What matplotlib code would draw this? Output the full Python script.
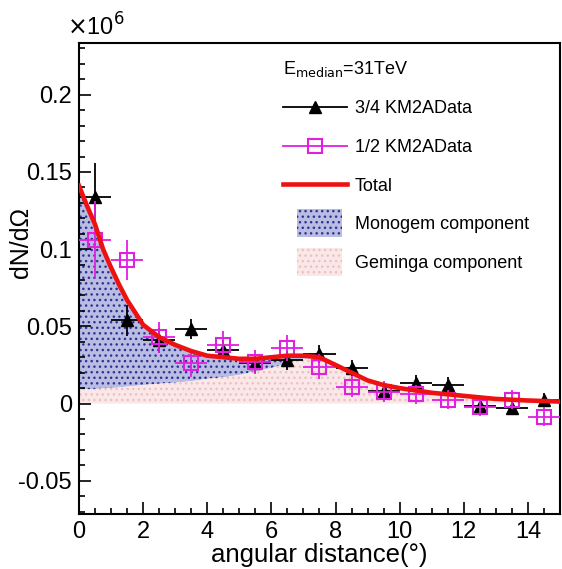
import matplotlib
matplotlib.use('Agg')
import matplotlib.pyplot as plt
from matplotlib.lines import Line2D
from matplotlib.patches import Patch, Rectangle
from matplotlib.legend_handler import HandlerPatch
from matplotlib.ticker import MultipleLocator, FuncFormatter

plt.rcParams['font.family'] = ['Liberation Sans', 'DejaVu Sans']
plt.rcParams['axes.unicode_minus'] = False
plt.rcParams['hatch.linewidth'] = 1.0

# bin centres (deg), values in units of 1e6
xbins = [0.5, 1.5, 2.5, 3.5, 4.5, 5.5, 6.5, 7.5, 8.5, 9.5, 10.5, 11.5, 12.5, 13.5, 14.5]
xhalf = [0.5] * 15

d34 = [0.134, 0.054, 0.041, 0.048, 0.035, 0.026, 0.028, 0.032, 0.023, 0.008,
       0.0135, 0.0123, -0.0013, -0.0026, 0.0026]
d34_err = [0.022, 0.010, 0.008, 0.0065, 0.006, 0.006, 0.006, 0.006, 0.005, 0.005,
           0.005, 0.005, 0.004, 0.004, 0.004]

d12 = [0.106, 0.093, 0.043, 0.0265, 0.038, 0.027, 0.036, 0.024, 0.011, 0.0078,
       0.006, 0.0026, -0.002, 0.0026, -0.0084]
d12_err = [0.025, 0.013, 0.010, 0.009, 0.009, 0.008, 0.0085, 0.008, 0.007, 0.007,
           0.006, 0.006, 0.006, 0.006, 0.006]

# model curves
xc = [0.0, 0.25, 0.5, 0.75, 1.0, 1.25, 1.5, 2.0, 2.5, 3.0, 3.5, 4.0, 4.5, 5.0, 5.5,
      6.0, 6.5, 7.0, 7.5, 8.0, 8.5, 9.0, 9.5, 10.0, 11.0, 12.0, 13.0, 14.0, 15.0]
total = [0.141, 0.128, 0.116, 0.100, 0.088, 0.077, 0.067, 0.051, 0.043, 0.038, 0.034,
         0.031, 0.030, 0.029, 0.029, 0.030, 0.031, 0.031, 0.030, 0.025, 0.020, 0.015,
         0.012, 0.010, 0.007, 0.005, 0.003, 0.002, 0.0013]
geminga = [0.009, 0.0093, 0.0095, 0.0098, 0.010, 0.0105, 0.011, 0.012, 0.0128, 0.0135,
           0.0145, 0.016, 0.017, 0.0185, 0.021, 0.023, 0.026, 0.029, 0.029, 0.024,
           0.019, 0.0145, 0.0115, 0.0095, 0.0068, 0.0048, 0.0029, 0.0019, 0.0012]

blue_face, blue_dot = '#babde3', '#2f3390'
pink_face, pink_dot = '#fae8e8', '#edc0c0'


class BoxHandler(HandlerPatch):
    def create_artists(self, legend, orig, xd, yd, w, h, fontsize, trans):
        r = Rectangle((-xd + 0.22 * w, -yd - 0.6 * h), 0.7 * w, 2.2 * h)
        self.update_prop(r, orig, legend)
        r.set_transform(trans)
        return [r]


fig = plt.figure(figsize=(5.62, 5.69), dpi=100)
ax = fig.add_axes([0.1406, 0.0967, 0.8558, 0.8277])

ax.fill_between(xc, geminga, total, facecolor=blue_face, edgecolor=blue_dot,
                hatch='...', linewidth=0, zorder=1)
ax.fill_between(xc, 0, geminga, facecolor=pink_face, edgecolor=pink_dot,
                hatch='...', linewidth=0, zorder=1)

ax.errorbar(xbins, d34, xerr=xhalf, yerr=d34_err, fmt='^', color='black',
            ms=8, elinewidth=1.3, capsize=0, zorder=3)
ax.errorbar(xbins, d12, xerr=xhalf, yerr=d12_err, fmt='s', color='#e020e0',
            mfc='none', mec='#e020e0', mew=1.5, ms=10, elinewidth=1.3, capsize=0, zorder=4)
ax.plot(xc, total, color='#ee1111', lw=3.3, zorder=5)

ax.set_xlim(0, 15)
ax.set_ylim(-0.0715, 0.2335)

ax.xaxis.set_major_locator(MultipleLocator(2))
ax.xaxis.set_minor_locator(MultipleLocator(0.5))
ax.yaxis.set_major_locator(MultipleLocator(0.05))
ax.yaxis.set_minor_locator(MultipleLocator(0.01))
ax.yaxis.set_major_formatter(FuncFormatter(lambda v, p: '%g' % round(v, 3)))
ax.tick_params(which='both', direction='in', top=False, right=False, width=1.2,
               labelsize=17)
ax.tick_params(which='major', length=8.5, pad=5)
ax.tick_params(which='minor', length=4.3)
for s in ax.spines.values():
    s.set_linewidth(1.5)

ax.set_xlabel('angular distance(°)', fontsize=18.5, labelpad=0)
ax.set_ylabel('dN/dΩ', fontsize=18)
ax.yaxis.set_label_coords(-0.095, 0.577)
ax.text(-0.025, 1.005, r'$\times$10$^{6}$', transform=ax.transAxes, fontsize=17,
        ha='left', va='bottom')

handles = [
    Line2D([], [], color='black', marker='^', ms=8, lw=1.3),
    Line2D([], [], color='#e020e0', marker='s', mfc='none', ms=10, mew=1.5, lw=1.3),
    Line2D([], [], color='#ee1111', lw=3.3),
    Patch(facecolor=blue_face, edgecolor=blue_dot, hatch='...', linewidth=0),
    Patch(facecolor=pink_face, edgecolor=pink_dot, hatch='...', linewidth=0),
]
labels = ['3/4 KM2AData', '1/2 KM2AData', 'Total', 'Monogem component', 'Geminga component']
leg = ax.legend(handles, labels, loc='upper left', bbox_to_anchor=(0.41, 0.982),
                frameon=False, fontsize=13, handlelength=3.5, handletextpad=0.45,
                labelspacing=1.2, borderaxespad=0,
                handler_map={Patch: BoxHandler()},
                title=r'E$_{\rm median}$=31TeV', title_fontsize=13, alignment='left')

fig.savefig('out.png', dpi=100)
